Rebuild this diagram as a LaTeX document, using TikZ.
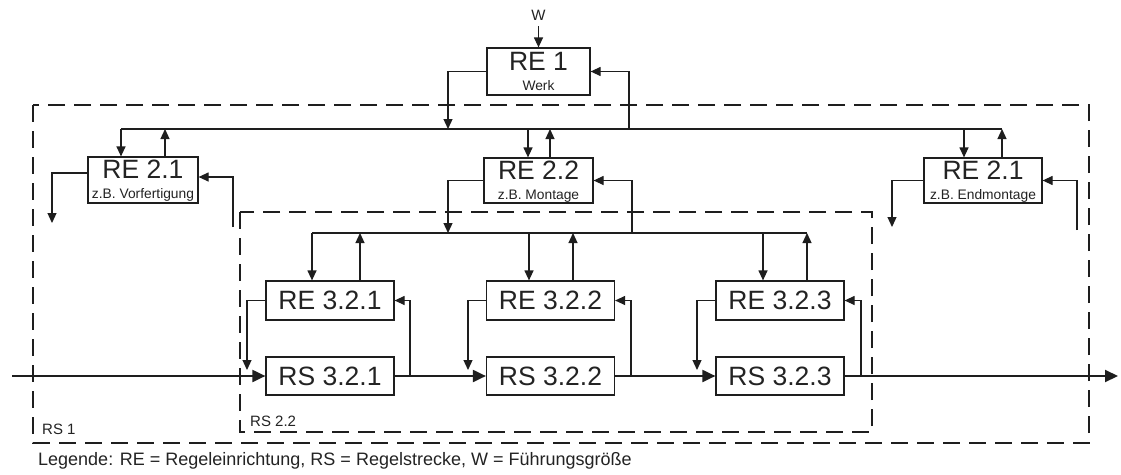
\documentclass[tikz,border=0pt]{standalone}
\usepackage{fontspec}
\setmainfont{Liberation Sans}
\usetikzlibrary{arrows.meta,calc}

\definecolor{ink}{RGB}{30,30,30}
\definecolor{txt}{RGB}{35,35,35}

\begin{document}
\begin{tikzpicture}[x=1pt,y=-1pt,
  box/.style={draw=ink, line width=1.2pt, rectangle, inner sep=0pt},
  bigtxt/.style={font=\fontsize{26.5}{27}\selectfont, text=txt, inner sep=0pt},
  subtxt/.style={font=\fontsize{13.8}{14}\selectfont, text=txt, inner sep=0pt},
  lbl/.style={font=\fontsize{15}{16}\selectfont, text=txt, inner sep=0pt},
  wire/.style={draw=ink, line width=1.2pt},
  sig/.style={wire, -{Triangle[length=10pt,width=9pt]}},
  flow/.style={draw=ink, line width=2pt, -{Triangle[length=13pt,width=12pt]}},
  zone/.style={draw=ink, line width=1.2pt, dash pattern=on 17pt off 9pt}]
\useasboundingbox[fill=white] (0,0) rectangle (1121,474);

% control zones
\draw[zone] (33,105) rectangle (1089,443);
\draw[zone] (240,212) rectangle (872,432);
\node[lbl, anchor=base west] (rs1lbl) at (42,434) {RS 1};
\node[lbl, anchor=base west] (rs22lbl) at (250,426) {RS 2.2};

% level 1
\node[box, minimum width=103pt, minimum height=47pt] (re1) at (538.5,71.5) {};
\node[bigtxt, anchor=base] (re1a) at ($(re1.north)+(0,23)$) {RE 1};
\node[subtxt, anchor=base] (re1b) at ($(re1.north)+(0,43)$) {Werk};
\node[lbl, anchor=base] (w) at (538.5,20) {W};
\draw[sig, shorten <=6pt] (w) -- (re1);

% level 2
\node[box, minimum width=110pt, minimum height=46pt] (re21) at (143,180) {};
\node[bigtxt, anchor=base] (re21a) at ($(re21.north)+(0,22.5)$) {RE 2.1};
\node[subtxt, anchor=base] (re21b) at ($(re21.north)+(0,42.5)$) {z.B. Vorfertigung};

\node[box, minimum width=109pt, minimum height=45pt] (re22) at (538.5,180.5) {};
\node[bigtxt, anchor=base] (re22a) at ($(re22.north)+(0,22.5)$) {RE 2.2};
\node[subtxt, anchor=base] (re22b) at ($(re22.north)+(0,42.5)$) {z.B. Montage};

\node[box, minimum width=118pt, minimum height=45pt] (re23) at (983,180.5) {};
\node[bigtxt, anchor=base] (re23a) at ($(re23.north)+(0,22.5)$) {RE 2.1};
\node[subtxt, anchor=base] (re23b) at ($(re23.north)+(0,42.5)$) {z.B. Endmontage};

% level 3
\tikzset{unit/.style={box, bigtxt, minimum width=128pt, minimum height=39pt}}
\node[unit] (re321) at (330,300.5) {RE 3.2.1};
\node[unit] (re322) at (550.5,300.5) {RE 3.2.2};
\node[unit] (re323) at (780,300.5) {RE 3.2.3};
\node[unit, minimum height=38pt] (rs321) at (330,376) {RS 3.2.1};
\node[unit, minimum height=38pt] (rs322) at (550.5,376) {RS 3.2.2};
\node[unit, minimum height=38pt] (rs323) at (780,376) {RS 3.2.3};

% upper bus
\coordinate (b1w) at (121,129);
\coordinate (b1e) at (1002,129);
\coordinate (b1a) at (448,129);
\coordinate (b1b) at (629,129);
\draw[wire] (b1w) -- (b1e);
\draw[sig] (re1.west) -| (b1a);
\draw[sig] (b1b) |- (re1.east);

% RE 2.1 Vorfertigung
\coordinate (u21) at (165,129);
\coordinate (o21) at (52,223);
\coordinate (i21) at (233,227);
\draw[sig] (b1w) -- (b1w |- re21.north);
\draw[sig] (u21 |- re21.north) -- (u21);
\draw[sig] ([yshift=7pt]re21.west) -| (o21);
\draw[sig] (i21) |- ([yshift=3pt]re21.east);

% RE 2.2 Montage
\coordinate (d22) at (528,129);
\coordinate (u22) at (550,129);
\draw[sig] (d22) -- (d22 |- re22.north);
\draw[sig] (u22 |- re22.north) -- (u22);

% RE 2.1 Endmontage
\coordinate (d23) at (964,129);
\coordinate (o23) at (892,227);
\coordinate (i23) at (1077,230);
\draw[sig] (d23) -- (d23 |- re23.north);
\draw[sig] (b1e |- re23.north) -- (b1e);
\draw[sig] (re23.west) -| (o23);
\draw[sig] (i23) |- (re23.east);

% lower bus
\coordinate (b2w) at (312,233);
\coordinate (b2e) at (807,233);
\coordinate (b2a) at (448,233);
\coordinate (b2b) at (632,233);
\draw[wire] (b2w) -- (b2e);
\draw[sig] (re22.west) -| (b2a);
\draw[sig] (b2b) |- (re22.east);

\coordinate (u321) at (360,233);
\coordinate (d322) at (529,233);
\coordinate (u322) at (573,233);
\coordinate (d323) at (763,233);
\draw[sig] (b2w) -- (b2w |- re321.north);
\draw[sig] (u321 |- re321.north) -- (u321);
\draw[sig] (d322) -- (d322 |- re322.north);
\draw[sig] (u322 |- re322.north) -- (u322);
\draw[sig] (d323) -- (d323 |- re323.north);
\draw[sig] (b2e |- re323.north) -- (b2e);

% control loops of the sections
\coordinate (o321) at (247,370);
\coordinate (o322) at (468,370);
\coordinate (o323) at (697,370);
\coordinate (f321) at (410,376);
\coordinate (f322) at (631,376);
\coordinate (f323) at (861,376);
\draw[sig] (re321.west) -| (o321);
\draw[sig] (re322.west) -| (o322);
\draw[sig] (re323.west) -| (o323);
\draw[sig] (f321) |- (re321.east);
\draw[sig] (f322) |- (re322.east);
\draw[sig] (f323) |- (re323.east);

% material flow
\coordinate (in) at (12,376);
\coordinate (out) at (1118,376);
\draw[flow] (in) -- (rs321);
\draw[flow] (rs321) -- (rs322);
\draw[flow] (rs322) -- (rs323);
\draw[flow] (rs323) -- (out);

% legend
\node[lbl, font=\fontsize{18}{19}\selectfont, anchor=base west] (legend) at (38,465)
  {Legende: RE = Regeleinrichtung, RS = Regelstrecke, W = Führungsgröße};
\end{tikzpicture}
\end{document}
